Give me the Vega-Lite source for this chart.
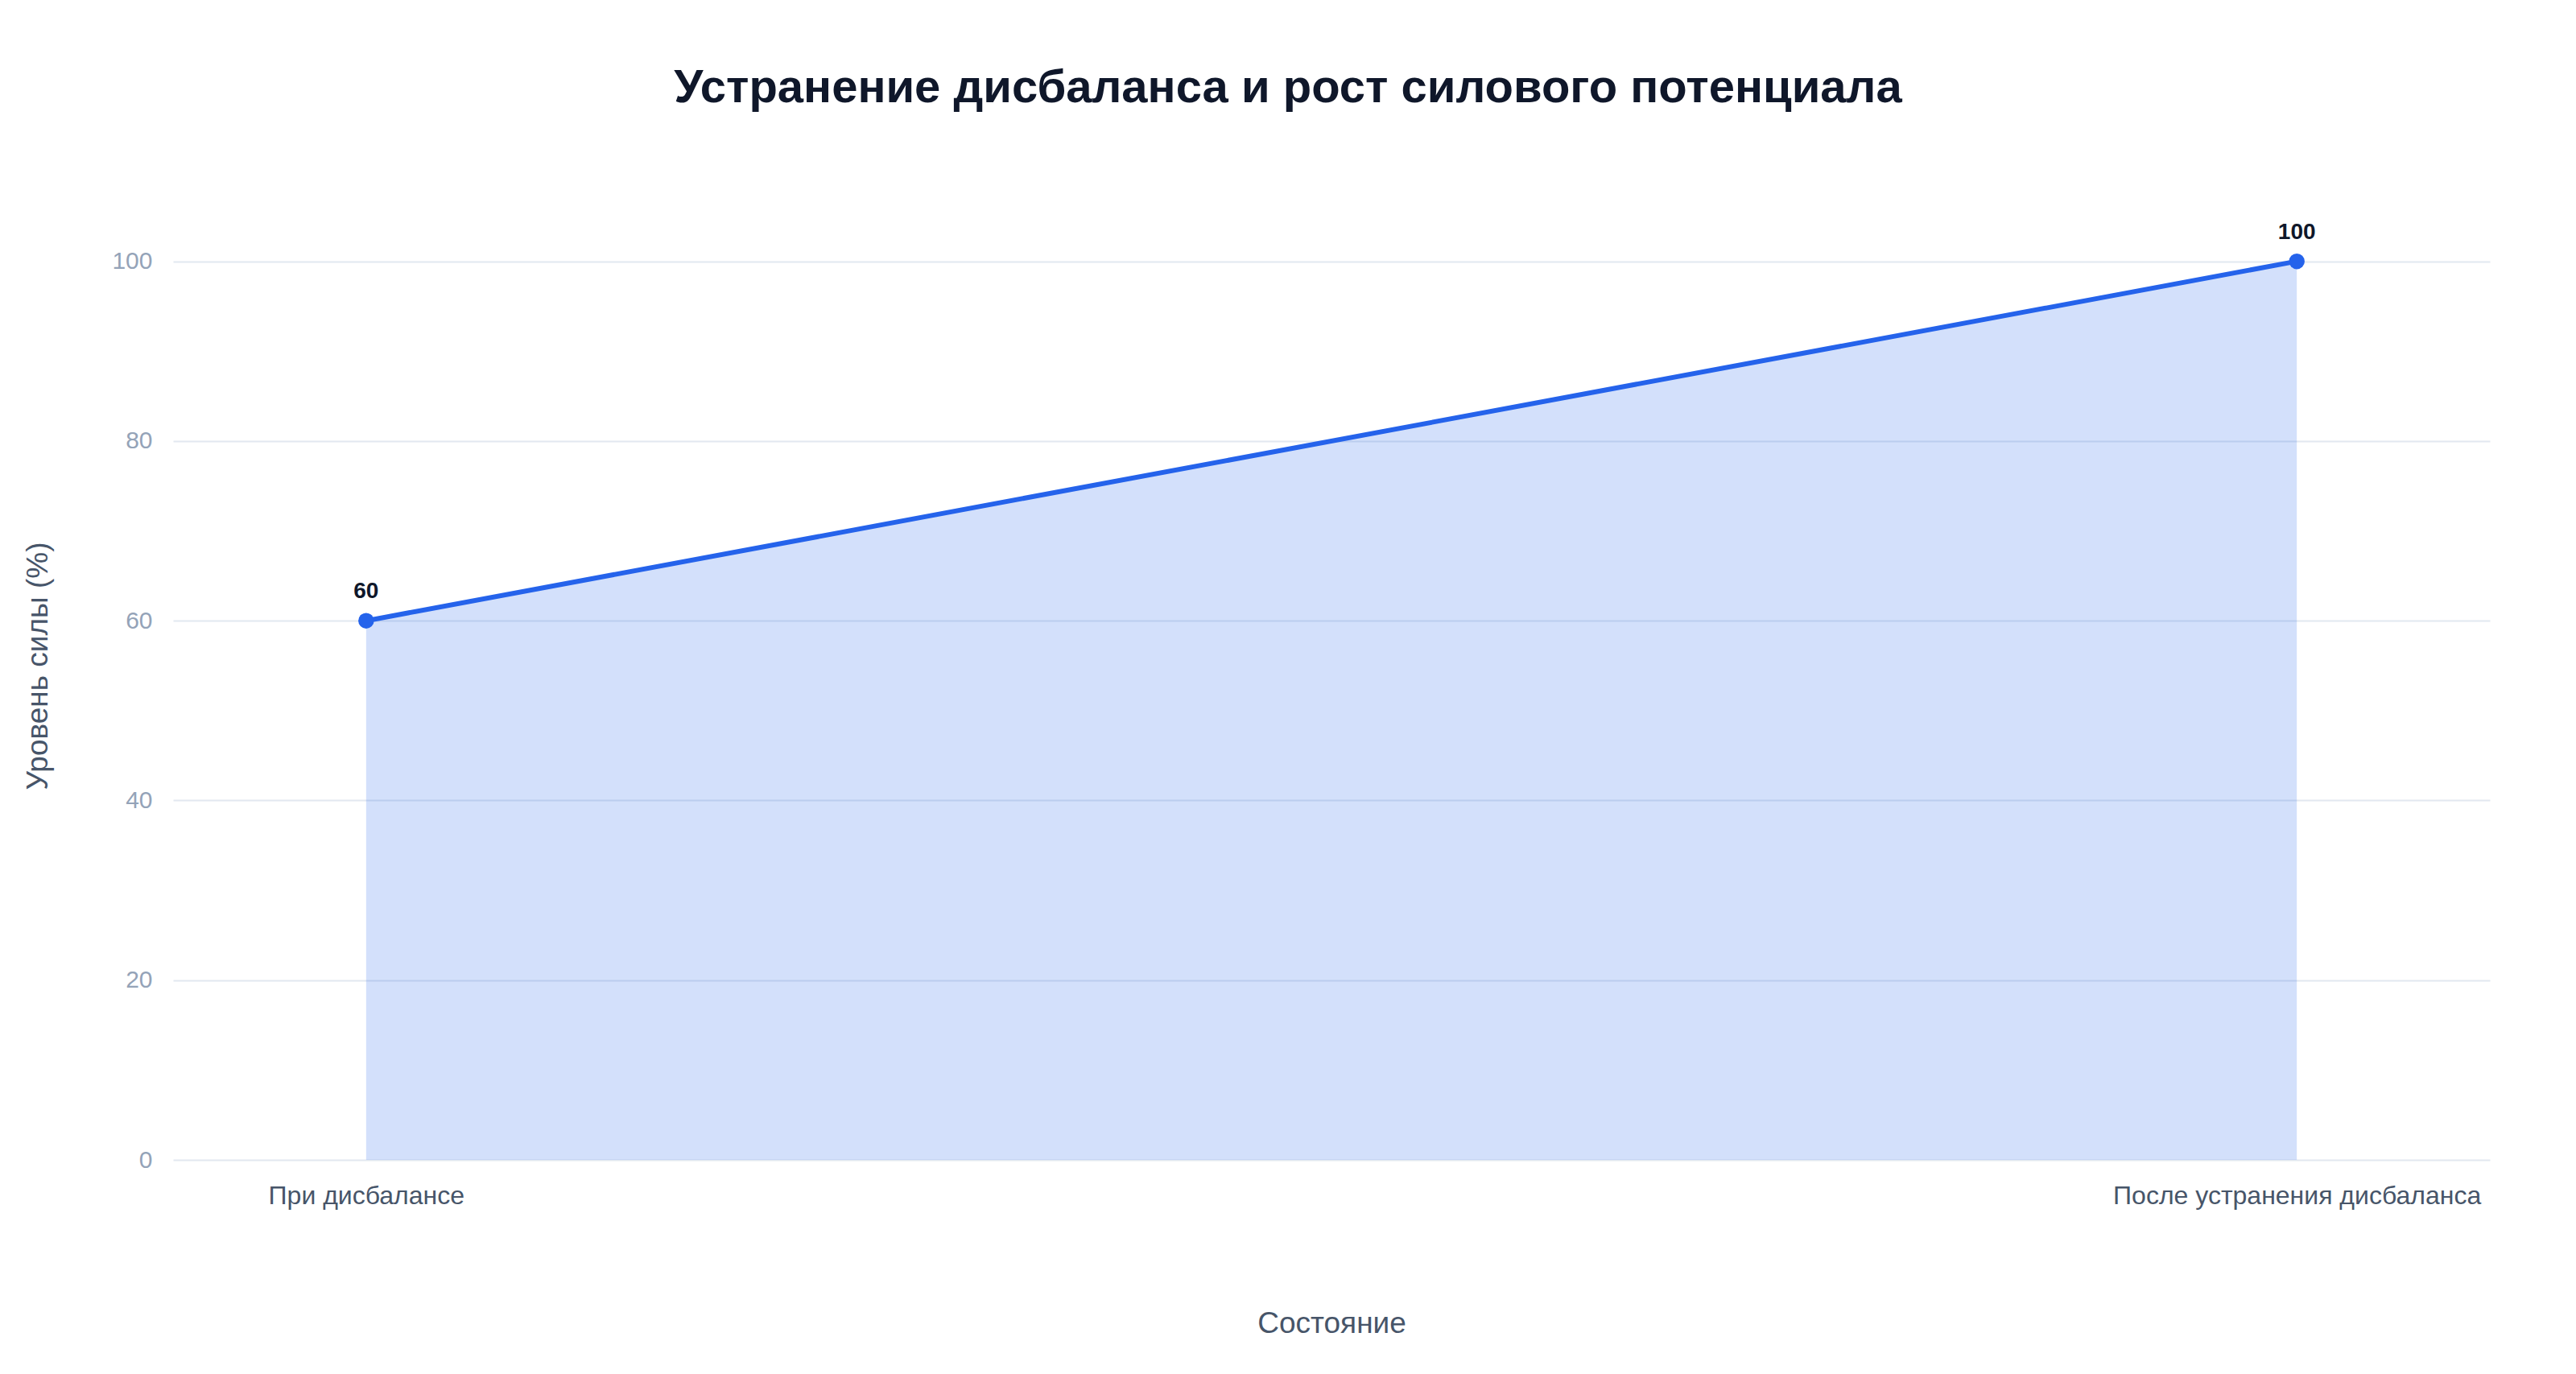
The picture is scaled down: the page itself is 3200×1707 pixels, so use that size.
{
  "$schema": "https://vega.github.io/schema/vega-lite/v6.json",
  "width": 2878,
  "height": 1228,
  "autosize": {"type": "none"},
  "padding": {"left": 215, "top": 213, "right": 107, "bottom": 266},
  "background": "white",
  "config": {
    "font": "Liberation Sans",
    "view": {"stroke": null}
  },
  "title": {
    "text": "Устранение дисбаланса и рост силового потенциала",
    "fontSize": 58,
    "fontWeight": "bold",
    "color": "#0f172a",
    "anchor": "middle",
    "dx": -54,
    "offset": 74
  },
  "data": {
    "values": [
      {"state": "При дисбалансе", "level": 60},
      {"state": "После устранения дисбаланса", "level": 100}
    ]
  },
  "encoding": {
    "x": {
      "field": "state",
      "type": "ordinal",
      "sort": null,
      "scale": {"type": "point", "padding": 0.1},
      "title": "Состояние",
      "axis": {
        "labelAngle": 0,
        "labelFontSize": 32,
        "labelLimit": 0,
        "labelColor": "#475569",
        "labelPadding": 29,
        "ticks": false,
        "domain": false,
        "grid": false,
        "titleFontSize": 37,
        "titleFontWeight": "normal",
        "titleColor": "#475569",
        "titlePadding": 125
      }
    },
    "y": {
      "field": "level",
      "type": "quantitative",
      "scale": {"domain": [0, 110], "nice": false},
      "title": "Уровень силы (%)",
      "axis": {
        "values": [0, 20, 40, 60, 80, 100],
        "labelFontSize": 30,
        "labelColor": "#94a3b8",
        "labelPadding": 26,
        "ticks": false,
        "domain": false,
        "gridColor": "#e2e8f0",
        "gridWidth": 2,
        "titleFontSize": 37,
        "titleFontWeight": "normal",
        "titleColor": "#475569",
        "titlePadding": 72
      }
    }
  },
  "layer": [
    {
      "mark": {"type": "area", "color": "#2563eb", "opacity": 0.2}
    },
    {
      "mark": {"type": "line", "color": "#2563eb", "strokeWidth": 6}
    },
    {
      "mark": {"type": "point", "filled": true, "color": "#2563eb", "size": 380, "opacity": 1}
    },
    {
      "mark": {"type": "text", "dy": -36, "fontSize": 28, "fontWeight": "bold", "color": "#0f172a"},
      "encoding": {"text": {"field": "level", "type": "quantitative"}}
    }
  ]
}
